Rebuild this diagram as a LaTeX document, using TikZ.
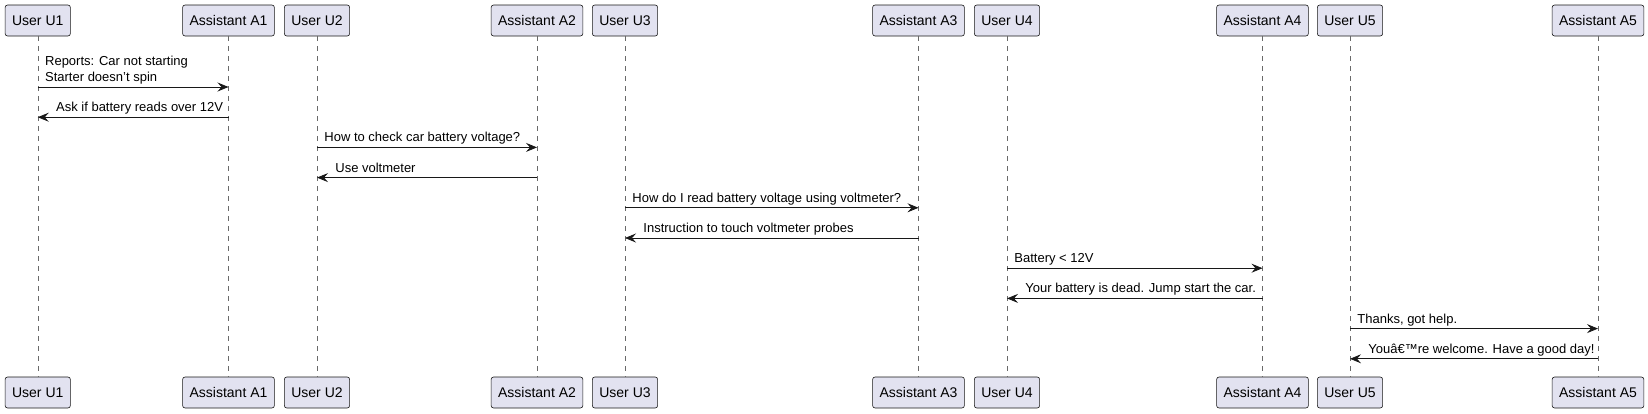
\documentclass[tikz,border=0pt]{standalone}
\usepackage{fontspec}
\setmainfont{Liberation Sans}
\usepackage{tikz}
\usetikzlibrary{arrows.meta}
\definecolor{boxfill}{HTML}{E2E2F0}
\definecolor{ink}{HTML}{181818}
\tikzstyle{part}=[draw=ink, fill=boxfill, rounded corners=2.5pt, line width=.6pt, inner xsep=7pt, inner ysep=0pt, minimum height=31pt, font=\fontsize{14}{16}\selectfont]
\tikzstyle{life}=[draw=ink!65, line width=.5pt, dash pattern=on 5pt off 5pt]
\tikzstyle{msg}=[draw=ink, line width=.8pt, -{Stealth[length=11pt, width=9pt, inset=4pt]}]
\tikzstyle{fwd}=[anchor=base west, inner sep=0pt, xshift=7pt, yshift=5.5pt, font=\fontsize{13}{16}\selectfont, align=left]
\tikzstyle{back}=[anchor=base west, inner sep=0pt, xshift=18pt, yshift=5.5pt, font=\fontsize{13}{16}\selectfont]

\begin{document}
\begin{tikzpicture}[x=1pt, y=-1pt]
	\useasboundingbox (0,0) rectangle (1648,413);
	% participants, top and bottom, with their lifelines
	\foreach \n/\x/\t in {u1/37.75/User U1, a1/228.5/Assistant A1, u2/317/User U2, a2/537/Assistant A2, u3/625/User U3, a3/918.5/Assistant A3, u4/1007/User U4, a4/1262.5/Assistant A4, u5/1350/User U5, a5/1598/Assistant A5}{
		\node[part] (top\n) at (\x,20.5) {\t};
		\node[part] (bot\n) at (\x,392.5) {\t};
		\draw[life] (top\n.south) -- (bot\n.north);
	}
	% one row per message
	\foreach \i in {1,...,10}{
		\coordinate (row\i) at (0,{87+30.2*(\i-1)});
	}
	\draw[msg] (topu1 |- row1) -- (topa1 |- row1) node[pos=0, fwd] {Reports: Car not starting\\Starter doesn't spin};
	\draw[msg] (topa1 |- row2) -- (topu1 |- row2) node[pos=1, back] {Ask if battery reads over 12V};
	\draw[msg] (topu2 |- row3) -- (topa2 |- row3) node[pos=0, fwd] {How to check car battery voltage?};
	\draw[msg] (topa2 |- row4) -- (topu2 |- row4) node[pos=1, back] {Use voltmeter};
	\draw[msg] (topu3 |- row5) -- (topa3 |- row5) node[pos=0, fwd] {How do I read battery voltage using voltmeter?};
	\draw[msg] (topa3 |- row6) -- (topu3 |- row6) node[pos=1, back] {Instruction to touch voltmeter probes};
	\draw[msg] (topu4 |- row7) -- (topa4 |- row7) node[pos=0, fwd] {Battery < 12V};
	\draw[msg] (topa4 |- row8) -- (topu4 |- row8) node[pos=1, back] {Your battery is dead. Jump start the car.};
	\draw[msg] (topu5 |- row9) -- (topa5 |- row9) node[pos=0, fwd] {Thanks, got help.};
	\draw[msg] (topa5 |- row10) -- (topu5 |- row10) node[pos=1, back] {Youâ€™re welcome. Have a good day!};
\end{tikzpicture}
\end{document}
